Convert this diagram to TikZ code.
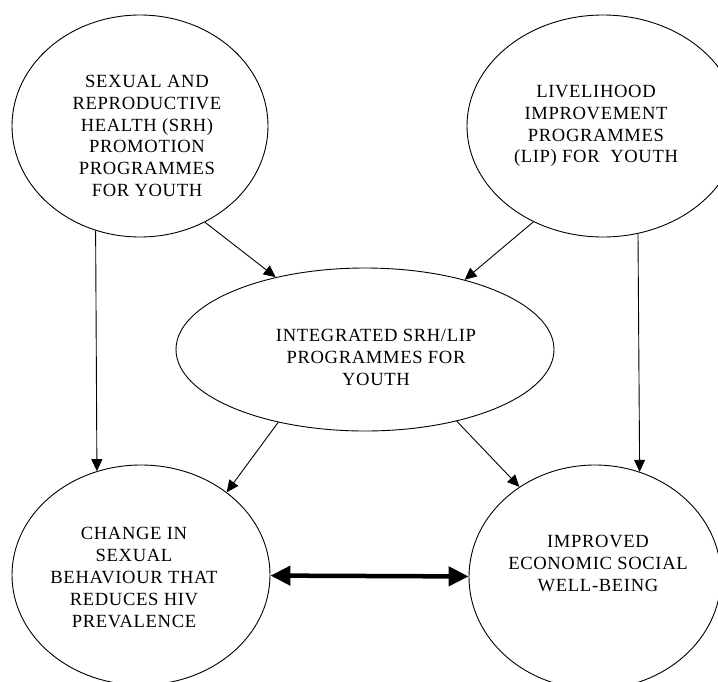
\documentclass[tikz,border=0pt]{standalone}
\usepackage{fontspec}
\setmainfont{Liberation Serif}[LetterSpace=3.5]
\usepackage{tikz}
\usetikzlibrary{arrows.meta,shapes.geometric,positioning}

\begin{document}
\begin{tikzpicture}[x=1pt,y=-1pt,
  oval/.style={ellipse,draw,line width=0.9pt,inner sep=0pt},
  txt/.style={align=center,font=\fontsize{18.6}{21.8}\selectfont,inner sep=0pt},
  arrow/.style={-{Triangle[length=12pt,width=11pt]},line width=0.9pt},
  twoway/.style={{Triangle[length=20pt,width=19pt]}-{Triangle[length=20pt,width=19pt]},line width=4.5pt}
]
\useasboundingbox (0,0) rectangle (718,681);
% ellipses
\node[oval,minimum width=256pt,minimum height=222pt] (srh) at (140,126) {};
\node[oval,minimum width=272pt,minimum height=222pt] (lip) at (603,126) {};
\node[oval,minimum width=378pt,minimum height=163pt] (mid) at (365,349.5) {};
\node[oval,minimum width=258pt,minimum height=220pt] (chg) at (141,575) {};
\node[oval,minimum width=252pt,minimum height=224pt] (wel) at (595,577) {};
% texts
\node[txt] (srhtext) at (147,136) {SEXUAL AND\\REPRODUCTIVE\\HEALTH (SRH)\\PROMOTION\\PROGRAMMES\\FOR YOUTH};
\node[txt] (liptext) at (596,126) {LIVELIHOOD\\IMPROVEMENT\\PROGRAMMES\\(LIP) FOR~ YOUTH};
\node[txt] (midtext) at (376,357.5) {INTEGRATED SRH/LIP\\PROGRAMMES FOR\\YOUTH};
\node[txt] (chgtext) at (134,577.5) {CHANGE IN\\SEXUAL\\BEHAVIOUR THAT\\REDUCES HIV\\PREVALENCE};
\node[txt] (weltext) at (598,563.5) {IMPROVED\\ECONOMIC SOCIAL\\WELL-BEING};
% connectors
\draw[arrow] (srh.247.6) -- (chg.113);
\draw[arrow] (srh.304) -- (mid.141.5);
\draw[arrow] (lip.234) -- (mid.35.4);
\draw[arrow] (lip.288) -- (wel.67.8);
\draw[arrow] (mid.220) -- (chg.44.3);
\draw[arrow] (mid.322.6) -- (wel.130.6);
\draw[twoway] (chg) -- (wel);
\end{tikzpicture}
\end{document}
